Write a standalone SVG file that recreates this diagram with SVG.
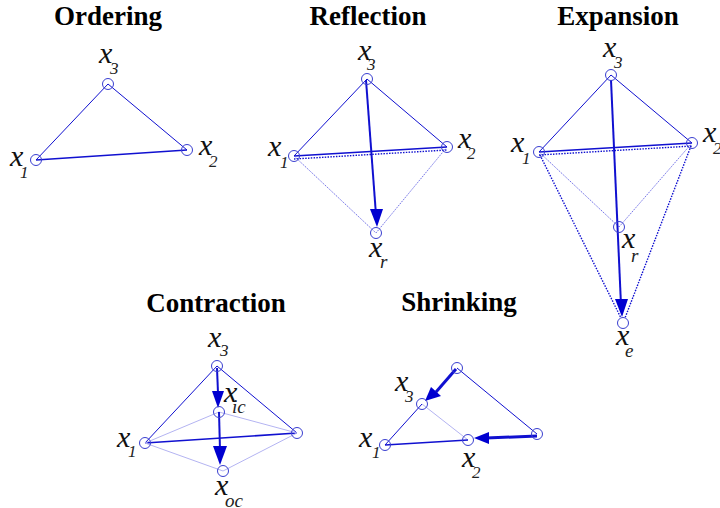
<svg xmlns="http://www.w3.org/2000/svg" width="720" height="508" viewBox="0 0 720 508">
<style>
.t{font-family:"Liberation Serif",serif;font-weight:bold;font-size:27px;fill:#000;text-anchor:middle}
.x{font-family:"Liberation Serif",serif;font-style:italic;font-size:30px;fill:#111}
.s{font-size:17px;fill:#222}
.l{font-size:19px;fill:#222}
circle{fill:none;stroke:#3a3fd0;stroke-width:1}
line{stroke:#1010d0;fill:none}
.a{stroke-width:1}
.b{stroke-width:1.6}
.c{stroke-width:.8;stroke-dasharray:1.5 1;stroke:#5050e0}
.g{stroke-width:1;stroke:#b4b4f2}
.d{stroke-width:1.4;stroke-dasharray:1.5 1.3}
.e{stroke-width:2}
.f{stroke-width:3}
path{fill:#0000d0;stroke:none}
</style>
<rect width="720" height="508" fill="#fff"/>
<g id="titles">
<text class="t" x="108" y="25">Ordering</text>
<text class="t" x="368" y="25">Reflection</text>
<text class="t" x="618" y="25">Expansion</text>
<text class="t" x="216" y="312">Contraction</text>
<text class="t" x="459" y="311">Shrinking</text>
</g>
<g id="connectors">
<line class="a" x1="108" y1="84" x2="36" y2="160"/><line class="a" x1="108" y1="84" x2="187" y2="150"/><line class="b" x1="36" y1="160" x2="187" y2="150"/>

<line class="a" x1="367" y1="79" x2="294" y2="156"/><line class="a" x1="367" y1="79" x2="447" y2="147"/><line class="b" x1="294" y1="156" x2="447" y2="147"/>
<line class="d" x1="294" y1="159" x2="447" y2="150"/><line class="c" x1="294" y1="156" x2="376" y2="233"/><line class="c" x1="447" y1="147" x2="376" y2="233"/>
<line class="e" x1="366" y1="80" x2="376" y2="215"/><path d="M370 209L383 209L377 227Z"/>

<line class="a" x1="611" y1="75" x2="539" y2="152"/><line class="a" x1="611" y1="75" x2="692" y2="143"/><line class="b" x1="539" y1="152" x2="692" y2="143"/>
<line class="d" x1="539" y1="155" x2="692" y2="146"/><line class="c" x1="539" y1="152" x2="619" y2="227"/><line class="c" x1="692" y1="143" x2="619" y2="227"/>
<line class="d" x1="540" y1="155" x2="621" y2="318"/><line class="d" x1="691" y1="146" x2="625" y2="318"/>
<line class="e" x1="611" y1="80" x2="621" y2="305"/><path d="M615 299L628 299L622 317Z"/>

<line class="a" x1="217" y1="366" x2="145" y2="443"/><line class="a" x1="217" y1="366" x2="297" y2="433"/><line class="b" x1="145" y1="443" x2="297" y2="433"/>
<line class="g" x1="145" y1="443" x2="219" y2="412"/><line class="g" x1="297" y1="433" x2="219" y2="412"/><line class="g" x1="145" y1="443" x2="223" y2="471"/><line class="g" x1="297" y1="433" x2="223" y2="471"/>
<line class="e" x1="217" y1="368" x2="218" y2="393"/><path d="M212 391L224 391L218 408Z"/>
<line class="e" x1="219" y1="412" x2="220" y2="450"/><path d="M213 446L227 446L220 465Z"/>

<line class="a" x1="457" y1="368" x2="537" y2="434"/><line class="a" x1="422" y1="404" x2="385" y2="445"/><line class="g" x1="422" y1="404" x2="468" y2="440"/><line class="b" x1="385" y1="445" x2="468" y2="440"/>
<line class="f" x1="456" y1="369" x2="436" y2="392"/><path d="M431 387L441 396L425 401Z"/>
<line class="f" x1="537" y1="436" x2="486" y2="438"/><path d="M489 432L489 444L474 438Z"/>
</g>

<g id="ordering-x3"><circle cx="108" cy="84" r="5.5"/><text class="x" x="99" y="63">x<tspan class="s" x="110" y="74">3</tspan></text></g>
<g id="ordering-x1"><circle cx="36" cy="160" r="5.5"/><text class="x" x="10" y="166">x<tspan class="s" x="20" y="178">1</tspan></text></g>
<g id="ordering-x2"><circle cx="187" cy="150" r="5.5"/><text class="x" x="199" y="155">x<tspan class="s" x="209" y="167">2</tspan></text></g>

<g id="reflection-x3"><circle cx="367" cy="79" r="5.5"/><text class="x" x="358" y="60">x<tspan class="s" x="367" y="70">3</tspan></text></g>
<g id="reflection-x1"><circle cx="294" cy="156" r="5.5"/><text class="x" x="268" y="156">x<tspan class="s" x="280" y="168">1</tspan></text></g>
<g id="reflection-x2"><circle cx="447" cy="147" r="5.5"/><text class="x" x="458" y="148">x<tspan class="s" x="467" y="159">2</tspan></text></g>
<g id="reflection-xr"><circle cx="376" cy="233" r="5.5"/><text class="x" x="369" y="257">x<tspan class="l" x="380" y="268">r</tspan></text></g>

<g id="expansion-x3"><circle cx="611" cy="75" r="5.5"/><text class="x" x="603" y="57">x<tspan class="s" x="614" y="68">3</tspan></text></g>
<g id="expansion-x1"><circle cx="539" cy="152" r="5.5"/><text class="x" x="511" y="152">x<tspan class="s" x="522" y="164">1</tspan></text></g>
<g id="expansion-x2"><circle cx="692" cy="143" r="5.5"/><text class="x" x="703" y="142">x<tspan class="s" x="713" y="154">2</tspan></text></g>
<g id="expansion-xr"><circle cx="619" cy="227" r="5.5"/><text class="x" x="622" y="248">x<tspan class="l" x="631" y="262">r</tspan></text></g>
<g id="expansion-xe"><circle cx="623" cy="323" r="5.5"/><text class="x" x="616" y="345">x<tspan class="l" x="625" y="357">e</tspan></text></g>

<g id="contraction-x3"><circle cx="217" cy="366" r="5.5"/><text class="x" x="208" y="347">x<tspan class="s" x="220" y="356">3</tspan></text></g>
<g id="contraction-x1"><circle cx="145" cy="443" r="5.5"/><text class="x" x="117" y="447">x<tspan class="s" x="128" y="457">1</tspan></text></g>
<g id="contraction-x2"><circle cx="297" cy="433" r="5.5"/></g>
<g id="contraction-xic"><circle cx="219" cy="412" r="5.5"/><text class="x" x="224" y="402">x<tspan class="l" x="232" y="413">ic</tspan></text></g>
<g id="contraction-xoc"><circle cx="223" cy="471" r="5.5"/><text class="x" x="215" y="495">x<tspan class="l" x="225" y="507">oc</tspan></text></g>

<g id="shrinking-top"><circle cx="457" cy="368" r="5.5"/></g>
<g id="shrinking-x3"><circle cx="422" cy="404" r="5.5"/><text class="x" x="395" y="391">x<tspan class="s" x="405" y="402">3</tspan></text></g>
<g id="shrinking-x1"><circle cx="385" cy="445" r="5.5"/><text class="x" x="359" y="447">x<tspan class="s" x="372" y="458">1</tspan></text></g>
<g id="shrinking-x2"><circle cx="468" cy="440" r="5.5"/><text class="x" x="462" y="467">x<tspan class="s" x="472" y="478">2</tspan></text></g>
<g id="shrinking-right"><circle cx="537" cy="434" r="5.5"/></g>
</svg>
